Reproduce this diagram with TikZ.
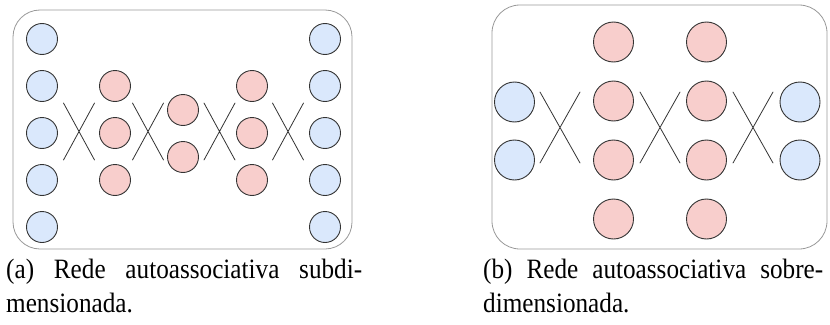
\documentclass[tikz,border=0pt]{standalone}
\usepackage{fontspec}
\newfontfamily\capfont[FakeStretch=0.9]{Liberation Serif}
\definecolor{inblue}{HTML}{DAE8FC}
\definecolor{hidred}{HTML}{F8CECC}
\definecolor{ink}{HTML}{333333}
\begin{document}
\begin{tikzpicture}[x=1pt,y=-1pt,line join=round,line cap=round,
    neuron/.style={circle,draw=ink,line width=0.9pt,inner sep=0pt},
    inpa/.style={neuron,fill=inblue,minimum size=31pt},
    hida/.style={neuron,fill=hidred,minimum size=31pt},
    inpb/.style={neuron,fill=inblue,minimum size=40pt},
    hidb/.style={neuron,fill=hidred,minimum size=40pt},
    frame/.style={draw=black!40,line width=0.8pt,rounded corners=27pt},
    link/.style={draw=ink,line width=0.8pt},
    caption/.style={font=\capfont\fontsize{28}{34}\selectfont,align=left,inner sep=0pt,anchor=base west}]
\useasboundingbox (0,0) rectangle (830,324);
% (a) subdimensionada: 5-3-2-3-5
\draw[frame] (13,10) rectangle (352,249);
\foreach \y [count=\i] in {39,86,133,180,227}{
    \node[inpa] (ain\i) at (42,\y) {};
    \node[inpa] (aout\i) at (325,\y) {};
}
\foreach \y [count=\i] in {86,133,180}{
    \node[hida] (ah\i) at (115,\y) {};
    \node[hida] (ak\i) at (252,\y) {};
}
\node[hida] (az1) at (183,110) {};
\node[hida] (az2) at (183,157) {};
\foreach \x in {79,148,219.5,288}
    \draw[link] (\x-15.5,103) -- (\x+15.5,160) (\x-15.5,160) -- (\x+15.5,103);
% (b) sobredimensionada: 2-4-4-2
\draw[frame,rounded corners=28pt] (492,5) rectangle (827,249);
\foreach \y [count=\i] in {102,160}{
    \node[inpb] (bin\i) at (514.5,\y) {};
    \node[inpb] (bout\i) at (800,\y) {};
}
\foreach \y [count=\i] in {42,101,160,219}{
    \node[hidb] (bh\i) at (613.5,\y) {};
    \node[hidb] (bk\i) at (706.5,\y) {};
}
\foreach \x in {560,660,753}
    \draw[link] (\x-20,92) -- (\x+20,163) (\x-20,163) -- (\x+20,92);
% legendas (a linha de base do nó é a da última linha)
\node[caption] (capa) at (6,312) {\makebox[356pt][s]{(a) Rede autoassociativa subdi-}\\mensionada.};
\node[caption] (capb) at (483,312) {\makebox[340pt][s]{(b) Rede autoassociativa sobre-}\\dimensionada.};
\end{tikzpicture}
\end{document}
